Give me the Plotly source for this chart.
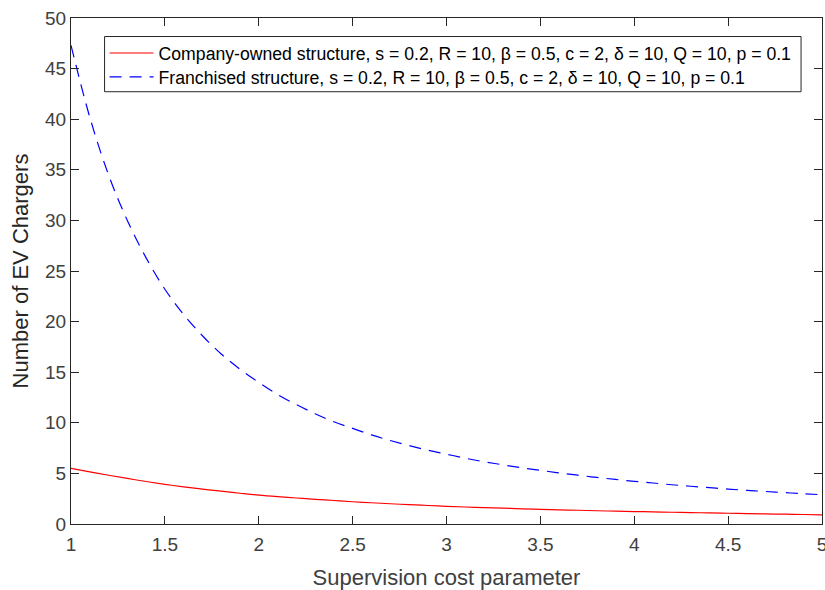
import plotly.graph_objects as go

x_vals = [1.0, 1.1, 1.2, 1.3, 1.4, 1.5, 1.6, 1.7, 1.8, 1.9, 2.0, 2.1, 2.2, 2.3, 2.4,
          2.5, 2.6, 2.7, 2.8, 2.9, 3.0, 3.1, 3.2, 3.3, 3.4, 3.5, 3.6, 3.7, 3.8, 3.9,
          4.0, 4.1, 4.2, 4.3, 4.4, 4.5, 4.6, 4.7, 4.8, 4.9, 5.0]

company_owned = [5.50, 5.15, 4.82, 4.50, 4.20, 3.92, 3.67, 3.45, 3.24, 3.04, 2.85,
                 2.70, 2.57, 2.44, 2.32, 2.20, 2.10, 2.00, 1.91, 1.83, 1.75,
                 1.68, 1.62, 1.56, 1.50, 1.45, 1.40, 1.36, 1.31, 1.27, 1.23,
                 1.20, 1.16, 1.13, 1.09, 1.06, 1.03, 1.00, 0.97, 0.94, 0.91]

franchised = [47.3, 40.2, 34.5, 30.0, 26.3, 23.2, 20.7, 18.6, 16.8, 15.3, 14.0,
              12.8, 11.8, 10.9, 10.1, 9.45, 8.8, 8.25, 7.75, 7.3, 6.9,
              6.5, 6.15, 5.85, 5.55, 5.3, 5.05, 4.82, 4.6, 4.4, 4.22,
              4.05, 3.88, 3.73, 3.59, 3.45, 3.33, 3.21, 3.1, 2.99, 2.89]

x_ticks = [1, 1.5, 2, 2.5, 3, 3.5, 4, 4.5, 5]
x_tick_labels = ["1", "1.5", "2", "2.5", "3", "3.5", "4", "4.5", "5"]
y_ticks = [0, 5, 10, 15, 20, 25, 30, 35, 40, 45, 50]

params = "s = 0.2, R = 10, β = 0.5, c = 2, δ = 10, Q = 10, p = 0.1"
name_company = "Company-owned structure, " + params
name_franchised = "Franchised structure, " + params

FONT = "Liberation Sans, Arial, sans-serif"
LEG_FONT = dict(family=FONT, size=17.65, color="#000000")

fig = go.Figure()
fig.add_trace(go.Scatter(x=x_vals, y=company_owned, mode="lines", name=name_company,
                         legend="legend",
                         line=dict(color="#ff0000", width=1.2, shape="spline")))
fig.add_trace(go.Scatter(x=x_vals, y=franchised, mode="lines", name=name_franchised,
                         legend="legend2",
                         line=dict(color="#0000ff", width=1.2, dash="12px,8px", shape="spline")))

axis_common = dict(
    showline=True, linecolor="#262626", linewidth=1.3, mirror="allticks",
    ticks="inside", ticklen=8, tickcolor="#262626", tickwidth=1.2,
    showgrid=False, zeroline=False, automargin=False, ticklabeloverflow="allow",
    tickfont=dict(family=FONT, size=19, color="#404040"),
)

# legend frame (paper coordinates)
fig.add_shape(type="rect", xref="paper", yref="paper",
              x0=0.0447, x1=0.9721, y0=0.8543, y1=0.9634,
              line=dict(color="#262626", width=1), fillcolor="white", layer="above")

fig.update_layout(
    width=825, height=590,
    margin=dict(l=71, r=3, t=18, b=66),
    paper_bgcolor="white", plot_bgcolor="white",
    font=dict(family=FONT, color="#262626"),
    xaxis=dict(range=[1, 5], tickvals=x_ticks, ticktext=x_tick_labels,
               ticklabelstandoff=3,
               title=dict(text="Supervision cost parameter", standoff=15,
                          font=dict(size=22, color="#404040")),
               **axis_common),
    yaxis=dict(range=[0, 50], tickvals=y_ticks,
               title=dict(text="Number of EV Chargers", standoff=10,
                          font=dict(size=22, color="#262626")),
               **axis_common),
    legend=dict(x=0.0447, y=0.9308, xanchor="left", yanchor="middle",
                bgcolor="rgba(0,0,0,0)", borderwidth=0,
                font=LEG_FONT, itemwidth=44),
    legend2=dict(x=0.0447, y=0.8834, xanchor="left", yanchor="middle",
                 bgcolor="rgba(0,0,0,0)", borderwidth=0,
                 font=LEG_FONT, itemwidth=44),
    showlegend=True,
)

fig.write_html("out.html",
               config={"displayModeBar": False},
               post_script="document.body.style.margin='0';document.body.style.overflow='hidden';")
